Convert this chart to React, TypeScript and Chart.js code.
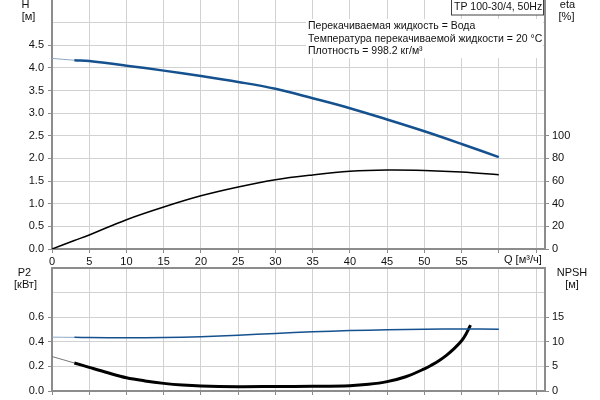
import React, { useEffect, useRef } from 'react';
import { Chart, registerables } from 'chart.js';

Chart.register(...registerables);

// ---- data ----
const qMain = [0, 3, 5, 10, 15, 20, 25, 30, 35, 40, 45, 50, 55, 60];
const headH = [4.21, 4.17, 4.15, 4.05, 3.94, 3.82, 3.69, 3.54, 3.33, 3.11, 2.86, 2.6, 2.32, 2.03];
const effEta = [0, 7.5, 12.4, 25.9, 37.1, 47, 54.8, 61.2, 65.4, 68.6, 69.8, 69.4, 68, 65.6];
const powerP2 = [0.438, 0.436, 0.435, 0.433, 0.435, 0.442, 0.454, 0.468, 0.481, 0.491, 0.497, 0.502, 0.504, 0.503];
const qNpsh = [0, 3, 5, 7.5, 10, 12.5, 15, 17.5, 20, 25, 30, 35, 40, 42.5, 45, 47.5, 50, 51, 52, 53, 54, 55, 55.6, 56.2];
const npshValues = [7.0, 5.7, 4.8, 3.7, 2.7, 2.05, 1.55, 1.2, 1.0, 0.88, 0.92, 0.96, 1.08, 1.35, 1.9, 2.9, 4.5, 5.3, 6.2, 7.3, 8.6, 10.2, 11.6, 13.4];

const qMax = 66.2;
const hMax = 5.5;
const hLabelMax = 4.5;
const etaMax = 220;
const etaLabelMax = 100;
const p2Max = 1.0;
const p2LabelMax = 0.6;
const npshMax = 25;
const npshLabelMax = 15;
const qLabelMax = 55;

const infoLines = [
  'Перекачиваемая жидкость = Вода',
  'Температура перекачиваемой жидкости = 20 °C',
  'Плотность = 998.2 кг/м³',
];
const pumpTitle = 'TP 100-30/4, 50Hz';

const FAMILY = '"Liberation Sans", Arial, sans-serif';
const GRID = '#d2d2d2';
const AXIS = '#8c8c8c';
const TXT = '#111111';
const BLUE = '#15518f';
const BLUE_LIGHT = '#8ea8c8';

const toXY = (xs: number[], ys: number[]) => xs.map((x, i) => ({ x, y: ys[i] }));
const near = (a: number, b: number) => a <= b + 1e-6;

function drawText(ctx: CanvasRenderingContext2D, text: string, x: number, y: number, align: CanvasTextAlign = 'left', size = 10.5) {
  ctx.save();
  ctx.font = `${size}px ${FAMILY}`;
  ctx.fillStyle = TXT;
  ctx.textAlign = align;
  ctx.textBaseline = 'middle';
  ctx.fillText(text, x, y);
  ctx.restore();
}

function xScale(height: number, showLabels: boolean) {
  return {
    type: 'linear' as const,
    position: 'bottom' as const,
    min: 0,
    max: qMax,
    ticks: {
      display: showLabels,
      stepSize: 5,
      includeBounds: false,
      autoSkip: false,
      maxRotation: 0,
      padding: 2,
      color: TXT,
      font: { family: FAMILY, size: 11 },
      callback: (v: any) => (near(Number(v), qLabelMax) ? String(v) : ''),
    },
    grid: { color: GRID, lineWidth: 1, tickLength: 4, tickColor: AXIS },
    border: { color: AXIS, width: 2 },
    afterFit: (s: any) => {
      s.height = height;
      s.paddingLeft = 0;
      s.paddingRight = 0;
    },
  };
}

function yScale(pos: 'left' | 'right', max: number, step: number, labelMax: number, digits: number, width: number, grid: boolean) {
  return {
    type: 'linear' as const,
    position: pos,
    min: 0,
    max,
    ticks: {
      stepSize: step,
      includeBounds: false,
      autoSkip: false,
      padding: pos === 'left' ? 4 : 3,
      color: TXT,
      font: { family: FAMILY, size: 11 },
      callback: (v: any) => (near(Number(v), labelMax) ? Number(v).toFixed(digits) : ''),
    },
    grid: {
      drawOnChartArea: grid,
      color: (c: any) => (c.tick && c.tick.value >= max - 1e-6 ? 'rgba(0,0,0,0)' : GRID),
      lineWidth: 1,
      tickLength: 4,
      tickColor: (c: any) => (c.tick && !near(c.tick.value, labelMax) ? 'rgba(0,0,0,0)' : AXIS),
    },
    border: { color: AXIS, width: 2 },
    afterFit: (s: any) => {
      s.width = width;
      s.paddingTop = 0;
      s.paddingBottom = 0;
    },
  };
}

const thinStart = (wide: number, color: string, light: string) => ({
  borderWidth: (c: any) => (c.p1.parsed.x <= 3 ? 1 : wide),
  borderColor: (c: any) => (c.p1.parsed.x <= 3 ? light : color),
});

export default function App() {
  const topRef = useRef<HTMLCanvasElement>(null);
  const botRef = useRef<HTMLCanvasElement>(null);

  useEffect(() => {
    const topPlugin = {
      id: 'topTexts',
      afterDraw(chart: any) {
        const ctx = chart.ctx as CanvasRenderingContext2D;
        drawText(ctx, 'H', 25.5, 5, 'center', 11);
        drawText(ctx, '[м]', 28.5, 17, 'center', 11);
        drawText(ctx, 'eta', 567.5, 5, 'center', 11);
        drawText(ctx, '[%]', 566.5, 17, 'center', 11);
        drawText(ctx, 'Q [м³/ч]', 504, 260, 'left', 11);
        // info block
        ctx.save();
        ctx.fillStyle = '#ffffff';
        ctx.fillRect(306, 19, 237, 39);
        ctx.restore();
        infoLines.forEach((t, i) => drawText(ctx, t, 308, 26 + i * 12.8, 'left'));
        // pump title box
        ctx.save();
        ctx.fillStyle = '#ffffff';
        ctx.fillRect(451, 0, 92, 15);
        ctx.strokeStyle = '#404040';
        ctx.lineWidth = 1;
        ctx.strokeRect(451.5, -0.5, 92, 15.5);
        ctx.restore();
        drawText(ctx, pumpTitle, 454, 7.5, 'left');
      },
    };

    const top = new Chart(topRef.current as HTMLCanvasElement, {
      type: 'line',
      data: {
        datasets: [
          {
            data: toXY(qMain, headH),
            yAxisID: 'y',
            borderColor: BLUE,
            borderWidth: 2.5,
            pointRadius: 0,
            tension: 0.35,
            segment: thinStart(2.5, BLUE, BLUE_LIGHT),
          },
          {
            data: toXY(qMain, effEta),
            yAxisID: 'y1',
            borderColor: '#000000',
            borderWidth: 1.5,
            pointRadius: 0,
            tension: 0.35,
          },
        ],
      },
      options: {
        responsive: false,
        maintainAspectRatio: false,
        animation: false,
        events: [],
        layout: { padding: 0 },
        plugins: { legend: { display: false }, tooltip: { enabled: false }, title: { display: false } },
        scales: {
          x: xScale(16, true),
          y: yScale('left', hMax, 0.5, hLabelMax, 1, 52, true),
          y1: yScale('right', etaMax, 20, etaLabelMax, 0, 55, false),
        } as any,
      },
      plugins: [topPlugin],
    } as any);

    const botPlugin = {
      id: 'botTexts',
      afterDraw(chart: any) {
        const ctx = chart.ctx as CanvasRenderingContext2D;
        const a = chart.chartArea;
        ctx.save();
        ctx.strokeStyle = AXIS;
        ctx.lineWidth = 2;
        ctx.beginPath();
        ctx.moveTo(a.left - 1, a.top);
        ctx.lineTo(a.right + 1, a.top);
        ctx.stroke();
        ctx.restore();
        drawText(ctx, 'P2', 24.5, 8, 'center', 11);
        drawText(ctx, '[кВт]', 25.5, 20, 'center', 11);
        drawText(ctx, 'NPSH', 572, 8, 'center', 11);
        drawText(ctx, '[м]', 572, 20, 'center', 11);
      },
    };

    const bot = new Chart(botRef.current as HTMLCanvasElement, {
      type: 'line',
      data: {
        datasets: [
          {
            data: toXY(qMain, powerP2),
            yAxisID: 'y',
            borderColor: BLUE,
            borderWidth: 1.5,
            pointRadius: 0,
            tension: 0.35,
            segment: thinStart(1.5, BLUE, BLUE_LIGHT),
          },
          {
            data: toXY(qNpsh, npshValues),
            yAxisID: 'y1',
            borderColor: '#000000',
            borderWidth: 3,
            pointRadius: 0,
            tension: 0.35,
            segment: thinStart(3, '#000000', '#777777'),
          },
        ],
      },
      options: {
        responsive: false,
        maintainAspectRatio: false,
        animation: false,
        events: [],
        layout: { padding: { top: 3, left: 0, right: 0, bottom: 0 } },
        plugins: { legend: { display: false }, tooltip: { enabled: false }, title: { display: false } },
        scales: {
          x: xScale(9, false),
          y: yScale('left', p2Max, 0.2, p2LabelMax, 1, 52, true),
          y1: yScale('right', npshMax, 5, npshLabelMax, 0, 55, false),
        } as any,
      },
      plugins: [botPlugin],
    } as any);

    return () => {
      top.destroy();
      bot.destroy();
    };
  }, []);

  return (
    <div style={{ position: 'absolute', left: 0, top: 0, width: 600, height: 400, background: '#ffffff', overflow: 'hidden' }}>
      <canvas ref={topRef} width={600} height={265} style={{ position: 'absolute', left: 0, top: 0, width: 600, height: 265 }} />
      <canvas ref={botRef} width={600} height={135} style={{ position: 'absolute', left: 0, top: 265, width: 600, height: 135 }} />
    </div>
  );
}
